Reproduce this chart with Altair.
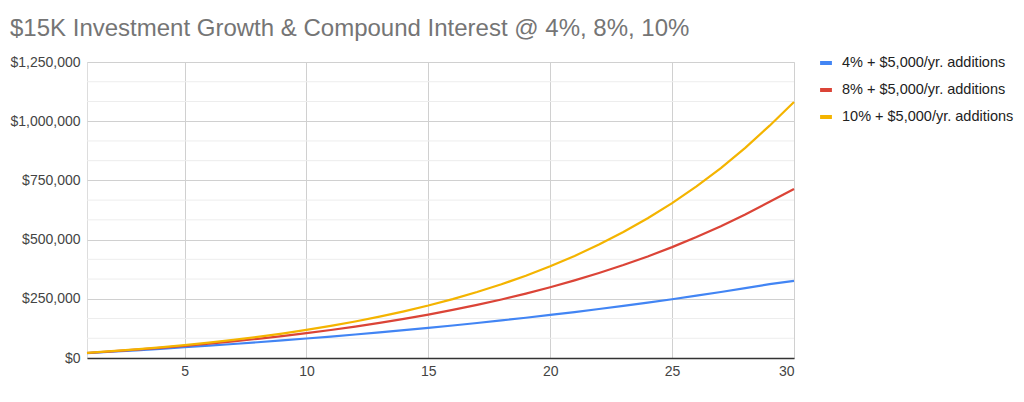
import altair as alt
import pandas as pd

years = list(range(1, 31))
series_names = [
    "4% + $5,000/yr. additions",
    "8% + $5,000/yr. additions",
    "10% + $5,000/yr. additions",
]
v4 = [20600, 26424, 32481, 38780, 45331, 52144, 59230, 66599, 74263, 82234,
      90523, 99144, 108110, 117434, 127131, 137216, 147705, 158613, 169958, 181756,
      194026, 206787, 220058, 233860, 248214, 263143, 278669, 294816, 311609, 326000]
v8 = [21200, 27896, 35128, 42938, 51373, 60483, 70322, 80948, 92424, 104818,
      118203, 132659, 148272, 165134, 183345, 203013, 224254, 247194, 271970, 298728,
      327626, 358836, 392543, 428946, 468262, 510723, 556581, 606107, 659596, 714000]
v10 = [21500, 28650, 36515, 45167, 54683, 65152, 76667, 89334, 103267, 118594,
       135453, 153999, 174398, 196838, 221522, 248674, 278542, 311396, 347535, 387289,
       431018, 479120, 532032, 590235, 654259, 724684, 802153, 887368, 981105, 1081000]
colors = ["#4285F4", "#DB4437", "#F4B400"]
y_ticks = [0, 250000, 500000, 750000, 1000000, 1250000]
x_ticks = [5, 10, 15, 20, 25, 30]
title_text = "$15K Investment Growth & Compound Interest @ 4%, 8%, 10%"

rows = []
for name, vals in zip(series_names, [v4, v8, v10]):
    for yr, v in zip(years, vals):
        rows.append({"year": yr, "value": v, "series": name})
df = pd.DataFrame(rows)

step = y_ticks[1] - y_ticks[0]
minor_ticks = [i * step / 3 for i in range(3 * (len(y_ticks) - 1) + 1) if i % 3]
minor_df = pd.DataFrame({"value": minor_ticks})

FONT = "Liberation Sans"

x_enc = alt.X(
    "year:Q",
    scale=alt.Scale(domain=[1, 30], nice=False, zero=False),
    axis=alt.Axis(
        values=x_ticks, title=None, grid=True, gridColor="#d0d0d0",
        ticks=False, domain=True, domainColor="#333333", domainWidth=1.5,
        labelFont=FONT, labelFontSize=14, labelColor="#444444", labelPadding=6,
    ),
)
y_scale = alt.Scale(domain=[0, 1250000], nice=False)
y_axis = alt.Axis(values=y_ticks, format="$,.0f", title=None,
                  grid=True, gridColor="#d0d0d0", ticks=False,
                  domain=False, labelFont=FONT, labelFontSize=14,
                  labelColor="#444444", labelPadding=7)

color_enc = alt.Color(
    "series:N",
    scale=alt.Scale(domain=series_names, range=colors),
    legend=alt.Legend(
        title=None, orient="none", legendX=731, legendY=-7,
        symbolType="stroke", symbolStrokeWidth=4, symbolSize=140,
        labelFont=FONT, labelFontSize=14.5, labelColor="#222222",
        rowPadding=11, labelOffset=8, labelLimit=300,
    ),
)

minor = alt.Chart(minor_df).mark_rule(color="#ededed", strokeWidth=1).encode(
    y=alt.Y("value:Q", scale=y_scale, axis=y_axis),
)

layers = [minor]
for name in series_names:
    layers.append(
        alt.Chart(df).transform_filter(alt.datum.series == name)
        .mark_line(strokeWidth=2.2)
        .encode(
            x=x_enc,
            y=alt.Y("value:Q", scale=y_scale, axis=y_axis),
            color=color_enc,
        )
    )

chart = (
    alt.layer(*layers)
    .properties(
        width=707, height=296,
        autosize=alt.AutoSizeParams(type="none"),
        padding={"left": 79, "top": 54, "right": 221, "bottom": 36},
        title=alt.TitleParams(
            title_text, anchor="start", frame="group", dx=-77, offset=14,
            font=FONT, fontSize=24, fontWeight="normal", color="#757575",
        ),
    )
    .configure_view(strokeWidth=0)
    .configure(background="white")
)

chart.save("out.html", embed_options={"renderer": "svg", "actions": False})
